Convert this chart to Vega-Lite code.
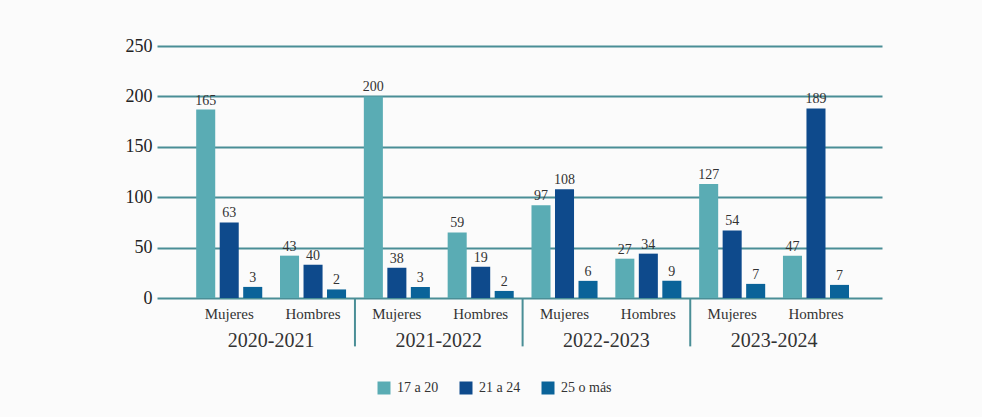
{
  "$schema": "https://vega.github.io/schema/vega-lite/v6.json",
  "width": 725,
  "height": 252,
  "autosize": {"type": "none"},
  "padding": {"left": 157, "top": 46, "right": 100, "bottom": 119},
  "background": "#fbfbfb",
  "config": {
    "font": "Liberation Serif",
    "view": {"stroke": null}
  },
  "data": {
    "values": [
      {"periodo": "2020-2021", "sexo": "Mujeres", "grupo": "2020-2021 Mujeres", "edad": "17 a 20", "valor": 187, "etiqueta": "165"},
      {"periodo": "2020-2021", "sexo": "Mujeres", "grupo": "2020-2021 Mujeres", "edad": "21 a 24", "valor": 75, "etiqueta": "63"},
      {"periodo": "2020-2021", "sexo": "Mujeres", "grupo": "2020-2021 Mujeres", "edad": "25 o más", "valor": 11, "etiqueta": "3"},
      {"periodo": "2020-2021", "sexo": "Hombres", "grupo": "2020-2021 Hombres", "edad": "17 a 20", "valor": 42, "etiqueta": "43"},
      {"periodo": "2020-2021", "sexo": "Hombres", "grupo": "2020-2021 Hombres", "edad": "21 a 24", "valor": 33, "etiqueta": "40"},
      {"periodo": "2020-2021", "sexo": "Hombres", "grupo": "2020-2021 Hombres", "edad": "25 o más", "valor": 8.5, "etiqueta": "2"},
      {"periodo": "2021-2022", "sexo": "Mujeres", "grupo": "2021-2022 Mujeres", "edad": "17 a 20", "valor": 200, "etiqueta": "200"},
      {"periodo": "2021-2022", "sexo": "Mujeres", "grupo": "2021-2022 Mujeres", "edad": "21 a 24", "valor": 30, "etiqueta": "38"},
      {"periodo": "2021-2022", "sexo": "Mujeres", "grupo": "2021-2022 Mujeres", "edad": "25 o más", "valor": 11, "etiqueta": "3"},
      {"periodo": "2021-2022", "sexo": "Hombres", "grupo": "2021-2022 Hombres", "edad": "17 a 20", "valor": 65, "etiqueta": "59"},
      {"periodo": "2021-2022", "sexo": "Hombres", "grupo": "2021-2022 Hombres", "edad": "21 a 24", "valor": 31, "etiqueta": "19"},
      {"periodo": "2021-2022", "sexo": "Hombres", "grupo": "2021-2022 Hombres", "edad": "25 o más", "valor": 7, "etiqueta": "2"},
      {"periodo": "2022-2023", "sexo": "Mujeres", "grupo": "2022-2023 Mujeres", "edad": "17 a 20", "valor": 92, "etiqueta": "97"},
      {"periodo": "2022-2023", "sexo": "Mujeres", "grupo": "2022-2023 Mujeres", "edad": "21 a 24", "valor": 108, "etiqueta": "108"},
      {"periodo": "2022-2023", "sexo": "Mujeres", "grupo": "2022-2023 Mujeres", "edad": "25 o más", "valor": 17, "etiqueta": "6"},
      {"periodo": "2022-2023", "sexo": "Hombres", "grupo": "2022-2023 Hombres", "edad": "17 a 20", "valor": 39, "etiqueta": "27"},
      {"periodo": "2022-2023", "sexo": "Hombres", "grupo": "2022-2023 Hombres", "edad": "21 a 24", "valor": 44, "etiqueta": "34"},
      {"periodo": "2022-2023", "sexo": "Hombres", "grupo": "2022-2023 Hombres", "edad": "25 o más", "valor": 17, "etiqueta": "9"},
      {"periodo": "2023-2024", "sexo": "Mujeres", "grupo": "2023-2024 Mujeres", "edad": "17 a 20", "valor": 113, "etiqueta": "127"},
      {"periodo": "2023-2024", "sexo": "Mujeres", "grupo": "2023-2024 Mujeres", "edad": "21 a 24", "valor": 67, "etiqueta": "54"},
      {"periodo": "2023-2024", "sexo": "Mujeres", "grupo": "2023-2024 Mujeres", "edad": "25 o más", "valor": 14, "etiqueta": "7"},
      {"periodo": "2023-2024", "sexo": "Hombres", "grupo": "2023-2024 Hombres", "edad": "17 a 20", "valor": 42, "etiqueta": "47"},
      {"periodo": "2023-2024", "sexo": "Hombres", "grupo": "2023-2024 Hombres", "edad": "21 a 24", "valor": 188, "etiqueta": "189"},
      {"periodo": "2023-2024", "sexo": "Hombres", "grupo": "2023-2024 Hombres", "edad": "25 o más", "valor": 13, "etiqueta": "7"}
    ]
  },
  "encoding": {
    "x": {
      "field": "grupo",
      "type": "nominal",
      "sort": null,
      "scale": {"paddingInner": 0, "paddingOuter": 0.3245, "align": 0.557},
      "axis": {
        "title": null,
        "domain": false,
        "ticks": false,
        "grid": false,
        "labelAngle": 0,
        "labelPadding": 8,
        "labelFontSize": 15,
        "labelColor": "#333333",
        "labelExpr": "split(datum.label, ' ')[1]"
      }
    }
  },
  "layer": [
    {
      "mark": {"type": "bar"},
      "encoding": {
        "xOffset": {
          "field": "edad",
          "type": "nominal",
          "sort": ["17 a 20", "21 a 24", "25 o más"],
          "scale": {"paddingInner": 0.19, "paddingOuter": 0.378}
        },
        "y": {
          "field": "valor",
          "type": "quantitative",
          "scale": {"domain": [0, 250], "nice": false},
          "axis": {
            "title": null,
            "domain": false,
            "ticks": false,
            "values": [0, 50, 100, 150, 200, 250],
            "gridColor": "#4a8e96",
            "gridWidth": 2,
            "gridOpacity": 1,
            "labelPadding": 5,
            "labelFontSize": 18,
            "labelColor": "#222222"
          }
        },
        "color": {
          "field": "edad",
          "type": "nominal",
          "sort": ["17 a 20", "21 a 24", "25 o más"],
          "scale": {"domain": ["17 a 20", "21 a 24", "25 o más"], "range": ["#5aacb4", "#0e4a8c", "#0a6399"]},
          "legend": {
            "title": null,
            "orient": "none",
            "direction": "horizontal",
            "legendX": 220,
            "legendY": 335,
            "symbolType": "square",
            "symbolSize": 169,
            "symbolStrokeWidth": 0,
            "symbolOpacity": 1,
            "labelFontSize": 14,
            "labelColor": "#333333",
            "labelOffset": 6,
            "columnPadding": 20
          }
        }
      }
    },
    {
      "mark": {"type": "text", "baseline": "alphabetic", "dy": -5, "fontSize": 14, "color": "#333333"},
      "encoding": {
        "xOffset": {
          "field": "edad",
          "type": "nominal",
          "sort": ["17 a 20", "21 a 24", "25 o más"]
        },
        "y": {"field": "valor", "type": "quantitative"},
        "text": {"field": "etiqueta", "type": "nominal"}
      }
    },
    {
      "transform": [{"filter": "datum.sexo == 'Hombres' && datum.edad == '17 a 20'"}],
      "mark": {"type": "text", "baseline": "middle", "dy": 43, "fontSize": 20, "color": "#333333"},
      "encoding": {
        "x": {"field": "grupo", "type": "nominal", "sort": null, "bandPosition": 0},
        "y": {"datum": 0},
        "text": {"field": "periodo", "type": "nominal"}
      }
    },
    {
      "transform": [{"filter": "datum.sexo == 'Mujeres' && datum.edad == '17 a 20' && datum.periodo != '2020-2021'"}],
      "mark": {"type": "rule", "color": "#4a8e96", "strokeWidth": 2},
      "encoding": {
        "x": {"field": "grupo", "type": "nominal", "sort": null, "bandPosition": 0},
        "y": {"datum": 0},
        "y2": {"datum": -48}
      }
    }
  ]
}
